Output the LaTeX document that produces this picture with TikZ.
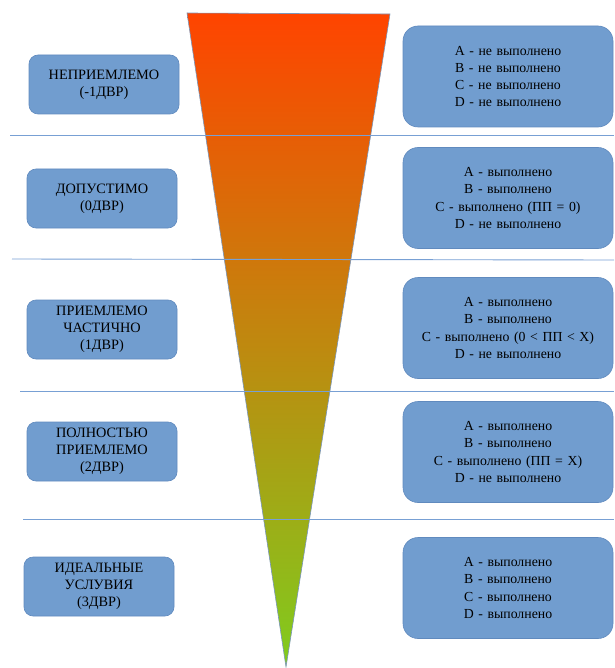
\documentclass[tikz,border=0pt]{standalone}
\usepackage{fontspec}
\setmainfont{Liberation Serif}
\definecolor{boxfill}{RGB}{113,157,207}
\definecolor{boxline}{RGB}{96,138,190}
\definecolor{sepline}{RGB}{120,160,212}
\definecolor{topc}{RGB}{255,68,0}
\definecolor{botc}{RGB}{128,204,30}
\tikzset{
  lbox/.style={draw=boxline, fill=boxfill, rounded corners=9pt, line width=0.6pt,
    minimum width=150pt, minimum height=59pt, align=center, text width=146pt,
    font=\rmfamily\fontsize{14.3}{17}\selectfont, inner sep=0pt},
  rbox/.style={draw=boxline, fill=boxfill, rounded corners=15pt, line width=0.6pt,
    minimum width=210pt, minimum height=101pt, align=center, text width=206pt,
    font=\rmfamily\fontsize{13.8}{17.2}\selectfont, inner sep=0pt},
  sep/.style={draw=sepline, line width=0.9pt},
}
\begin{document}
\begin{tikzpicture}[x=1pt,y=-1pt]
\useasboundingbox (0,0) rectangle (614,668);
% funnel
\coordinate (tl) at (187,13);
\coordinate (tr) at (390,14);
\coordinate (apex) at (286,667);
\shade[top color=topc, bottom color=botc] (tl) -- (tr) -- (apex) -- cycle;
\draw[draw=sepline!70!gray, line width=0.6pt] (tl) -- (tr) -- (apex) -- cycle;
% separator lines
\coordinate (s1a) at (10,135); \coordinate (s1b) at (614,135);
\coordinate (s2a) at (12,259); \coordinate (s2b) at (614,260);
\coordinate (s3a) at (20,391); \coordinate (s3b) at (614,391);
\coordinate (s4a) at (23,519); \coordinate (s4b) at (614,519);
\draw[sep] (s1a) -- (s1b);
\draw[sep] (s2a) -- (s2b);
\draw[sep] (s3a) -- (s3b);
\draw[sep] (s4a) -- (s4b);
% left boxes
\node[lbox] (l1) at (104,84.5) {НЕПРИЕМЛЕМО\\(-1ДВР)};
\node[lbox] (l2) at (102,198.5) {ДОПУСТИМО\\(0ДВР)};
\node[lbox] (l3) at (102,329.5) {ПРИЕМЛЕМО\\ЧАСТИЧНО\\(1ДВР)};
\node[lbox] (l4) at (102,451.5) {ПОЛНОСТЬЮ\\ПРИЕМЛЕМО\\(2ДВР)};
\node[lbox] (l5) at (99,586.5) {ИДЕАЛЬНЫЕ\\УСЛУВИЯ\\(3ДВР)};
% right boxes
\node[rbox] (r1) at (508,76.5) {A - не выполнено\\B - не выполнено\\C - не выполнено\\D - не выполнено};
\node[rbox] (r2) at (508,198) {A - выполнено\\B - выполнено\\C - выполнено (ПП = 0)\\D - не выполнено};
\node[rbox] (r3) at (508,328) {A - выполнено\\B - выполнено\\C - выполнено (0 < ПП < X)\\D - не выполнено};
\node[rbox] (r4) at (508,452) {A - выполнено\\B - выполнено\\C - выполнено (ПП = X)\\D - не выполнено};
\node[rbox] (r5) at (508,588) {A - выполнено\\B - выполнено\\C - выполнено\\D - выполнено};
\end{tikzpicture}
\end{document}
